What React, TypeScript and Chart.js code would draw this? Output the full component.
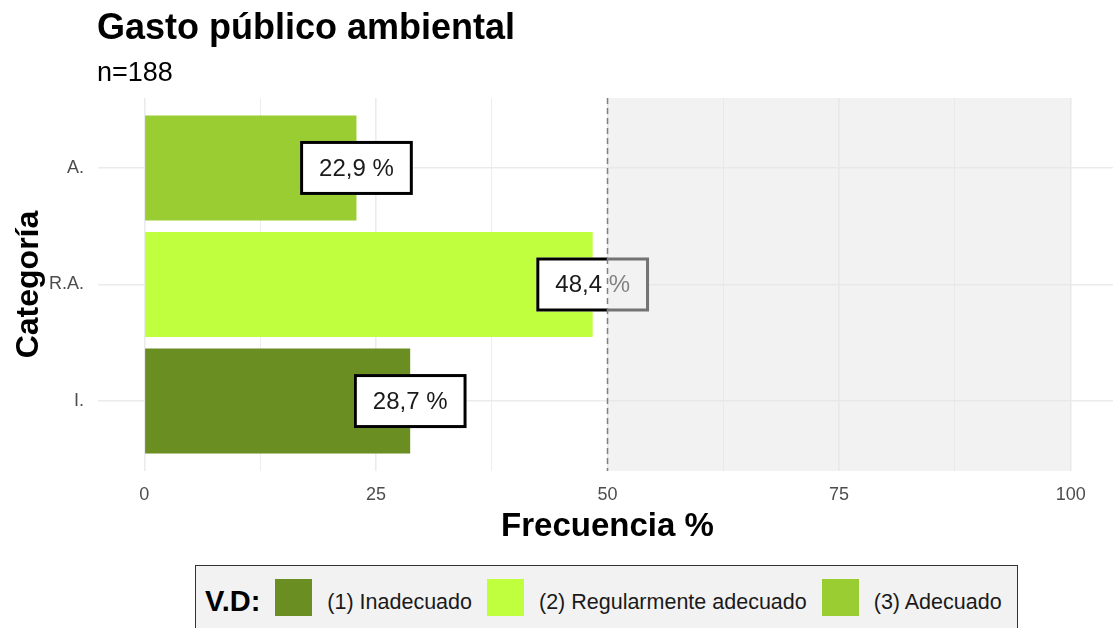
import React, { useEffect, useRef } from 'react';
import { Chart, registerables } from 'chart.js';

Chart.register(...registerables);

const FONT = '"Liberation Sans", Arial, sans-serif';

const TITLE = 'Gasto público ambiental';
const SUBTITLE = 'n=188';
const X_TITLE = 'Frecuencia %';
const Y_TITLE = 'Categoría';

// bottom-to-top order on the y axis
const CATEGORIES = ['I.', 'R.A.', 'A.'];
const VALUES = [28.7, 48.4, 22.9];
const COLORS = ['#6B8E23', '#C0FF3E', '#9ACD32'];

const LEGEND_TITLE = 'V.D:';
const LEGEND_LABELS = ['(1) Inadecuado', '(2) Regularmente adecuado', '(3) Adecuado'];

const X_TICKS = [0, 12.5, 25, 37.5, 50, 62.5, 75, 87.5, 100];
const X_LABELED = [0, 25, 50, 75, 100];
const THRESHOLD = 50;
const SHADE_END = 100;

const labelPlugin = {
  id: 'labelsAndShade',
  afterDatasetsDraw(chart: any) {
    const { ctx, chartArea, scales } = chart;
    const meta = chart.getDatasetMeta(0);
    ctx.save();
    ctx.font = `24px ${FONT}`;
    meta.data.forEach((el: any, i: number) => {
      const text = VALUES[i].toFixed(1).replace('.', ',') + ' %';
      const tw = ctx.measureText(text).width;
      const w = tw + 38;
      const h = 54;
      const x = el.x;
      const y = el.y;
      ctx.fillStyle = '#ffffff';
      ctx.fillRect(x - w / 2, y - h / 2, w, h);
      ctx.lineWidth = 3;
      ctx.strokeStyle = '#000000';
      ctx.strokeRect(x - w / 2 + 1.5, y - h / 2 + 1.5, w - 3, h - 3);
      ctx.fillStyle = '#1a1a1a';
      ctx.textAlign = 'center';
      ctx.textBaseline = 'middle';
      ctx.fillText(text, x, y + 1);
    });
    const x0 = scales.x.getPixelForValue(THRESHOLD);
    const x1 = scales.x.getPixelForValue(SHADE_END);
    ctx.fillStyle = 'rgba(229,229,229,0.5)';
    ctx.fillRect(x0, chartArea.top, x1 - x0, chartArea.bottom - chartArea.top);
    ctx.setLineDash([6, 4]);
    ctx.lineWidth = 1.5;
    ctx.strokeStyle = '#808080';
    ctx.beginPath();
    ctx.moveTo(x0, chartArea.top);
    ctx.lineTo(x0, chartArea.bottom);
    ctx.stroke();
    ctx.restore();
  },
};

function BarChart() {
  const ref = useRef<HTMLCanvasElement>(null);
  useEffect(() => {
    if (!ref.current) return;
    const chart = new Chart(ref.current, {
      type: 'bar',
      data: {
        datasets: [
          {
            data: VALUES.map((v, i) => ({ x: v, y: i })),
            backgroundColor: COLORS,
            borderWidth: 0,
            categoryPercentage: 1,
            barPercentage: 0.9,
          } as any,
        ],
      },
      options: {
        indexAxis: 'y',
        responsive: false,
        animation: false,
        events: [],
        layout: { padding: { top: 98, left: 0, right: 0, bottom: 9 } },
        plugins: {
          legend: { display: false },
          tooltip: { enabled: false },
          title: { display: false },
        },
        scales: {
          x: {
            type: 'linear',
            min: -5,
            max: 105,
            afterBuildTicks: (s: any) => {
              s.ticks = X_TICKS.map((v) => ({ value: v }));
            },
            afterFit: (s: any) => {
              s.height = 80;
            },
            border: { display: false },
            grid: {
              color: '#EBEBEB',
              lineWidth: (c: any) => (c.tick && X_LABELED.includes(c.tick.value) ? 1.6 : 0.9),
              drawTicks: false,
            },
            ticks: {
              padding: 13,
              color: '#4D4D4D',
              font: { family: FONT, size: 18 },
              autoSkip: false,
              maxRotation: 0,
              callback: (v: any) => (X_LABELED.includes(Number(v)) ? String(v) : ''),
            },
            title: {
              display: true,
              text: X_TITLE,
              color: '#000000',
              font: { family: FONT, size: 33, weight: 'bold' },
              padding: { top: 4, bottom: 4 },
            },
          },
          y: {
            type: 'linear',
            min: -0.6,
            max: 2.6,
            offset: false,
            afterBuildTicks: (s: any) => {
              s.ticks = CATEGORIES.map((_, i) => ({ value: i }));
            },
            afterFit: (s: any) => {
              s.width = 98;
            },
            border: { display: false },
            grid: { offset: false, color: '#EBEBEB', lineWidth: 1.6, drawTicks: false },
            ticks: {
              padding: 14,
              color: '#4D4D4D',
              font: { family: FONT, size: 18 },
              autoSkip: false,
              callback: (v: any) => CATEGORIES[Number(v)] ?? '',
            },
            title: {
              display: true,
              text: Y_TITLE,
              color: '#000000',
              font: { family: FONT, size: 32, weight: 'bold' },
              padding: { top: 10, bottom: 0 },
            },
          },
        },
      } as any,
      plugins: [labelPlugin],
    });
    return () => chart.destroy();
  }, []);
  return (
    <canvas
      ref={ref}
      width={1117}
      height={560}
      style={{ position: 'absolute', left: 0, top: 0, width: 1117, height: 560 }}
    />
  );
}

export default function App() {
  return (
    <div
      style={{
        position: 'fixed',
        left: 0,
        top: 0,
        width: 1113,
        height: 628,
        overflow: 'hidden',
        background: '#ffffff',
        fontFamily: FONT,
      }}
    >
      <BarChart />
      <div
        style={{
          position: 'absolute',
          left: 97,
          top: 9,
          fontSize: 36,
          fontWeight: 'bold',
          lineHeight: 1,
          color: '#000',
          whiteSpace: 'nowrap',
        }}
      >
        {TITLE}
      </div>
      <div
        style={{
          position: 'absolute',
          left: 97,
          top: 59,
          fontSize: 27,
          lineHeight: 1,
          color: '#000',
          whiteSpace: 'nowrap',
        }}
      >
        {SUBTITLE}
      </div>
      <div
        style={{
          position: 'absolute',
          left: 195,
          top: 565,
          width: 823,
          height: 80,
          boxSizing: 'border-box',
          border: '1.5px solid #333333',
          background: '#F2F2F2',
          display: 'flex',
          alignItems: 'flex-start',
          paddingLeft: 9,
          paddingTop: 13,
          whiteSpace: 'nowrap',
        }}
      >
        <span
          style={{
            fontWeight: 'bold',
            fontSize: 29,
            lineHeight: '37px',
            marginRight: 15,
            position: 'relative',
            top: 4,
            color: '#000',
          }}
        >
          {LEGEND_TITLE}
        </span>
        {LEGEND_LABELS.map((label, i) => (
          <React.Fragment key={label}>
            <span
              style={{
                display: 'inline-block',
                width: 37,
                height: 37,
                background: COLORS[i],
                marginRight: 15,
                flex: 'none',
              }}
            />
            <span
              style={{
                fontSize: 21.5,
                lineHeight: '37px',
                marginRight: 15,
                position: 'relative',
                top: 5,
                color: '#1a1a1a',
              }}
            >
              {label}
            </span>
          </React.Fragment>
        ))}
      </div>
    </div>
  );
}
